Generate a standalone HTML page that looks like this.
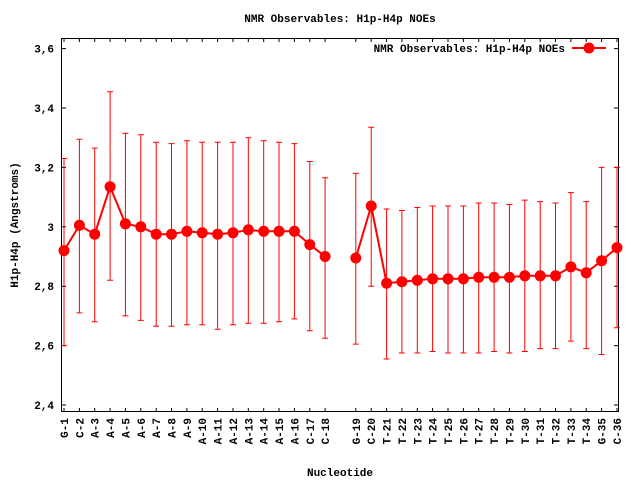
<!DOCTYPE html>
<html><head><meta charset="utf-8"><style>
html,body{margin:0;padding:0;background:#fff}
svg{display:block}
text{font-family:"Liberation Mono",monospace;font-weight:bold;font-size:11px;fill:#000}
</style></head><body>
<svg width="640" height="480" viewBox="0 0 640 480" xmlns="http://www.w3.org/2000/svg">
<rect width="640" height="480" fill="#fff"/>
<text x="340" y="22" text-anchor="middle">NMR Observables: H1p-H4p NOEs</text>
<rect x="61.5" y="38.5" width="557" height="373" fill="none" stroke="#000" stroke-width="1"/>
<g stroke="#000" stroke-width="1">
<path d="M61 48.6h5M619 48.6h-5M61 108h5M619 108h-5M61 167.4h5M619 167.4h-5M61 226.8h5M619 226.8h-5M61 286.2h5M619 286.2h-5M61 345.6h5M619 345.6h-5M61 405h5M619 405h-5"/>
<path d="M64 412v-4M64 38v4M79.4 412v-4M79.4 38v4M94.7 412v-4M94.7 38v4M110.1 412v-4M110.1 38v4M125.4 412v-4M125.4 38v4M140.8 412v-4M140.8 38v4M156.2 412v-4M156.2 38v4M171.5 412v-4M171.5 38v4M186.9 412v-4M186.9 38v4M202.2 412v-4M202.2 38v4M217.6 412v-4M217.6 38v4M233 412v-4M233 38v4M248.3 412v-4M248.3 38v4M263.7 412v-4M263.7 38v4M279 412v-4M279 38v4M294.4 412v-4M294.4 38v4M309.8 412v-4M309.8 38v4M325.1 412v-4M325.1 38v4M355.8 412v-4M355.8 38v4M371.2 412v-4M371.2 38v4M386.6 412v-4M386.6 38v4M401.9 412v-4M401.9 38v4M417.3 412v-4M417.3 38v4M432.6 412v-4M432.6 38v4M448 412v-4M448 38v4M463.4 412v-4M463.4 38v4M478.7 412v-4M478.7 38v4M494.1 412v-4M494.1 38v4M509.4 412v-4M509.4 38v4M524.8 412v-4M524.8 38v4M540.2 412v-4M540.2 38v4M555.5 412v-4M555.5 38v4M570.9 412v-4M570.9 38v4M586.2 412v-4M586.2 38v4M601.6 412v-4M601.6 38v4M617 412v-4M617 38v4"/>
</g>
<g text-anchor="end">
<text x="54" y="52.6">3,6</text>
<text x="54" y="112">3,4</text>
<text x="54" y="171.4">3,2</text>
<text x="54" y="230.8">3</text>
<text x="54" y="290.2">2,8</text>
<text x="54" y="349.6">2,6</text>
<text x="54" y="409">2,4</text>
</g>
<text transform="translate(18,225) rotate(-90)" text-anchor="middle">H1p-H4p (Angstroms)</text>
<text x="340" y="476" text-anchor="middle">Nucleotide</text>
<g text-anchor="end">
<text transform="translate(68,418) rotate(-90)">G-1</text>
<text transform="translate(83.4,418) rotate(-90)">C-2</text>
<text transform="translate(98.7,418) rotate(-90)">A-3</text>
<text transform="translate(114.1,418) rotate(-90)">A-4</text>
<text transform="translate(129.4,418) rotate(-90)">A-5</text>
<text transform="translate(144.8,418) rotate(-90)">A-6</text>
<text transform="translate(160.2,418) rotate(-90)">A-7</text>
<text transform="translate(175.5,418) rotate(-90)">A-8</text>
<text transform="translate(190.9,418) rotate(-90)">A-9</text>
<text transform="translate(206.2,418) rotate(-90)">A-10</text>
<text transform="translate(221.6,418) rotate(-90)">A-11</text>
<text transform="translate(237,418) rotate(-90)">A-12</text>
<text transform="translate(252.3,418) rotate(-90)">A-13</text>
<text transform="translate(267.7,418) rotate(-90)">A-14</text>
<text transform="translate(283,418) rotate(-90)">A-15</text>
<text transform="translate(298.4,418) rotate(-90)">A-16</text>
<text transform="translate(313.8,418) rotate(-90)">C-17</text>
<text transform="translate(329.1,418) rotate(-90)">C-18</text>
<text transform="translate(359.8,418) rotate(-90)">G-19</text>
<text transform="translate(375.2,418) rotate(-90)">C-20</text>
<text transform="translate(390.6,418) rotate(-90)">T-21</text>
<text transform="translate(405.9,418) rotate(-90)">T-22</text>
<text transform="translate(421.3,418) rotate(-90)">T-23</text>
<text transform="translate(436.6,418) rotate(-90)">T-24</text>
<text transform="translate(452,418) rotate(-90)">T-25</text>
<text transform="translate(467.4,418) rotate(-90)">T-26</text>
<text transform="translate(482.7,418) rotate(-90)">T-27</text>
<text transform="translate(498.1,418) rotate(-90)">T-28</text>
<text transform="translate(513.4,418) rotate(-90)">T-29</text>
<text transform="translate(528.8,418) rotate(-90)">T-30</text>
<text transform="translate(544.2,418) rotate(-90)">T-31</text>
<text transform="translate(559.5,418) rotate(-90)">T-32</text>
<text transform="translate(574.9,418) rotate(-90)">T-33</text>
<text transform="translate(590.2,418) rotate(-90)">T-34</text>
<text transform="translate(605.6,418) rotate(-90)">G-35</text>
<text transform="translate(621,418) rotate(-90)">C-36</text>
</g>
<g stroke="#f00" stroke-width="1" fill="none">
<path d="M64 158.5V345.6M61 158.5h6M61 345.6h6
M79.4 139.2V312.9M76.4 139.2h6M76.4 312.9h6
M94.7 148.1V321.8M91.7 148.1h6M91.7 321.8h6
M110.1 91.7V280.3M107.1 91.7h6M107.1 280.3h6
M125.4 133.2V315.9M122.4 133.2h6M122.4 315.9h6
M140.8 134.7V320.4M137.8 134.7h6M137.8 320.4h6
M156.2 142.2V326.3M153.2 142.2h6M153.2 326.3h6
M171.5 143.6V326.3M168.5 143.6h6M168.5 326.3h6
M186.9 140.7V324.8M183.9 140.7h6M183.9 324.8h6
M202.2 142.2V324.8M199.2 142.2h6M199.2 324.8h6
M217.6 142.2V329.3M214.6 142.2h6M214.6 329.3h6
M233 142.2V324.8M230 142.2h6M230 324.8h6
M248.3 137.7V323.3M245.3 137.7h6M245.3 323.3h6
M263.7 140.7V323.3M260.7 140.7h6M260.7 323.3h6
M279 142.2V321.8M276 142.2h6M276 321.8h6
M294.4 143.6V318.9M291.4 143.6h6M291.4 318.9h6
M309.8 161.5V330.8M306.8 161.5h6M306.8 330.8h6
M325.1 177.8V338.2M322.1 177.8h6M322.1 338.2h6
M355.8 173.4V344.1M352.8 173.4h6M352.8 344.1h6
M371.2 127.3V286.2M368.2 127.3h6M368.2 286.2h6
M386.6 209V359M383.6 209h6M383.6 359h6
M401.9 210.5V353M398.9 210.5h6M398.9 353h6
M417.3 207.5V353M414.3 207.5h6M414.3 353h6
M432.6 206V351.5M429.6 206h6M429.6 351.5h6
M448 206V353M445 206h6M445 353h6
M463.4 206V353M460.4 206h6M460.4 353h6
M478.7 203V353M475.7 203h6M475.7 353h6
M494.1 203V351.5M491.1 203h6M491.1 351.5h6
M509.4 204.5V353M506.4 204.5h6M506.4 353h6
M524.8 200.1V351.5M521.8 200.1h6M521.8 351.5h6
M540.2 201.6V348.6M537.2 201.6h6M537.2 348.6h6
M555.5 203V348.6M552.5 203h6M552.5 348.6h6
M570.9 192.6V341.1M567.9 192.6h6M567.9 341.1h6
M586.2 201.6V348.6M583.2 201.6h6M583.2 348.6h6
M601.6 167.4V354.5M598.6 167.4h6M598.6 354.5h6
M617 167.4V327.8M614 167.4h6M614 327.8h6"/>
</g>
<g stroke="#f00" stroke-width="2" fill="none">
<polyline points="64,250.6 79.4,225.3 94.7,234.2 110.1,186.7 125.4,223.8 140.8,226.8 156.2,234.2 171.5,234.2 186.9,231.3 202.2,232.8 217.6,234.2 233,232.8 248.3,229.8 263.7,231.3 279,231.3 294.4,231.3 309.8,244.6 325.1,256.5"/>
<polyline points="355.8,258 371.2,206 386.6,283.2 401.9,281.7 417.3,280.3 432.6,278.8 448,278.8 463.4,278.8 478.7,277.3 494.1,277.3 509.4,277.3 524.8,275.8 540.2,275.8 555.5,275.8 570.9,266.9 586.2,272.8 601.6,260.8 617,247.6"/>
</g>
<g fill="#f00">
<circle cx="64" cy="250.6" r="5.5"/><circle cx="79.4" cy="225.3" r="5.5"/><circle cx="94.7" cy="234.2" r="5.5"/><circle cx="110.1" cy="186.7" r="5.5"/><circle cx="125.4" cy="223.8" r="5.5"/><circle cx="140.8" cy="226.8" r="5.5"/><circle cx="156.2" cy="234.2" r="5.5"/><circle cx="171.5" cy="234.2" r="5.5"/><circle cx="186.9" cy="231.3" r="5.5"/><circle cx="202.2" cy="232.8" r="5.5"/><circle cx="217.6" cy="234.2" r="5.5"/><circle cx="233" cy="232.8" r="5.5"/><circle cx="248.3" cy="229.8" r="5.5"/><circle cx="263.7" cy="231.3" r="5.5"/><circle cx="279" cy="231.3" r="5.5"/><circle cx="294.4" cy="231.3" r="5.5"/><circle cx="309.8" cy="244.6" r="5.5"/><circle cx="325.1" cy="256.5" r="5.5"/>
<circle cx="355.8" cy="258" r="5.5"/><circle cx="371.2" cy="206" r="5.5"/><circle cx="386.6" cy="283.2" r="5.5"/><circle cx="401.9" cy="281.7" r="5.5"/><circle cx="417.3" cy="280.3" r="5.5"/><circle cx="432.6" cy="278.8" r="5.5"/><circle cx="448" cy="278.8" r="5.5"/><circle cx="463.4" cy="278.8" r="5.5"/><circle cx="478.7" cy="277.3" r="5.5"/><circle cx="494.1" cy="277.3" r="5.5"/><circle cx="509.4" cy="277.3" r="5.5"/><circle cx="524.8" cy="275.8" r="5.5"/><circle cx="540.2" cy="275.8" r="5.5"/><circle cx="555.5" cy="275.8" r="5.5"/><circle cx="570.9" cy="266.9" r="5.5"/><circle cx="586.2" cy="272.8" r="5.5"/><circle cx="601.6" cy="260.8" r="5.5"/><circle cx="617" cy="247.6" r="5.5"/>
</g>
<text x="565" y="52" text-anchor="end">NMR Observables: H1p-H4p NOEs</text>
<path d="M572 48H606" stroke="#f00" stroke-width="2"/>
<circle cx="589" cy="48" r="5.5" fill="#f00"/>
</svg>
</body></html>
